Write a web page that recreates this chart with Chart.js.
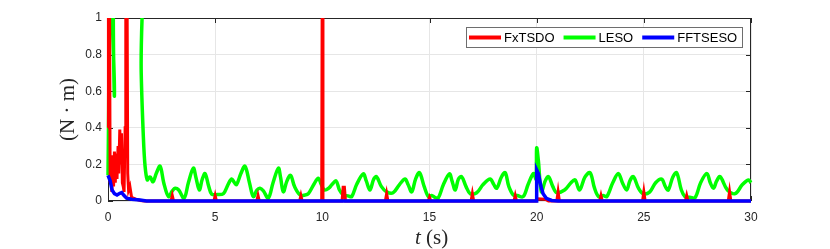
<!DOCTYPE html>
<html>
<head>
<meta charset="utf-8">
<script src="https://cdn.jsdelivr.net/npm/chart.js@4"></script>
<style>
  html, body { margin: 0; padding: 0; background: #fff; }
  #wrap { width: 830px; height: 249px; }
</style>
</head>
<body>
<div id="wrap"><canvas id="chart" width="830" height="249"></canvas></div>
<script>
// --- données ---
const seriesNames = ['FxTSDO', 'LESO', 'FFTSESO'];
const seriesColors = ['#ff0000', '#00ff00', '#0000ff'];

const xTicks = [0, 5, 10, 15, 20, 25, 30];
const yTicks = [0, 0.2, 0.4, 0.6, 0.8, 1];
const yTickLabels = ['0', '0.2', '0.4', '0.6', '0.8', '1'];

// FxTSDO (rouge)
const redT = [0, 0.02, 0.06, 0.1, 0.14, 0.18, 0.22, 0.26, 0.3, 0.34, 0.38, 0.42, 0.47, 0.5, 0.55, 0.6, 0.63, 0.67, 0.71, 0.75, 0.8, 0.83, 0.88, 0.92, 0.96, 1.02, 1.1, 1.3, 1.5, 1.7,
  2.94, 3.0, 3.06, 4.94, 5.0, 5.06, 6.94, 7.0, 7.06, 8.94, 9.0, 9.06, 9.97, 10.0, 10.03,
  10.92, 10.97, 11.03, 11.08, 12.94, 13.0, 13.06, 14.94, 15.0, 15.06, 16.94, 17.0, 17.06, 18.94, 19.0, 19.06,
  19.99, 20.05, 20.4, 20.55, 20.94, 21.0, 21.06, 22.94, 23.0, 23.06, 24.94, 25.0, 25.06, 26.94, 27.0, 27.06, 28.94, 29.0, 29.06, 30];
const redY = [0.4, 1.5, 1.5, 0.1, 0.22, 0.05, 0.25, 0.08, 0.27, 0.1, 0.26, 0.12, 0.3, 0.15, 0.39, 0.2, 0.37, 0.1, 0.08, 0.05, 0.4, 1.5, 1.5, 0.15, 0.06, 0.08, 0.02, 0.01, 0.003, 0,
  0, 0.03, 0, 0, 0.03, 0, 0, 0.03, 0, 0, 0.03, 0, 0, 1.5, 0,
  0, 0.075, 0.075, 0, 0, 0.04, 0, 0, 0.02, 0, 0, 0.04, 0, 0, 0.03, 0,
  0, 0.012, 0.01, 0, 0, 0.05, 0, 0, 0.03, 0, 0, 0.05, 0, 0, 0.03, 0, 0, 0.05, 0, 0];

// LESO (vert)
const greenT = [0, 0.03, 0.08, 0.2, 0.26, 0.3, 0.34, 1.45, 1.55, 1.65, 1.73, 1.83, 1.92, 1.98, 2.1, 2.25, 2.43, 2.6, 2.82, 3.0, 3.13, 3.3, 3.55, 3.75, 3.98,
  4.1, 4.26, 4.4, 4.53, 4.7, 4.84, 5.1, 5.38, 5.6, 5.77, 5.9, 6.0, 6.2, 6.39, 6.6, 6.78, 6.95, 7.09, 7.25, 7.48, 7.7, 7.95,
  8.05, 8.18, 8.35, 8.52, 8.7, 8.96, 9.2, 9.35, 9.6, 9.81, 9.95, 10.1, 10.3, 10.45, 10.64, 10.8, 10.98, 11.2, 11.37, 11.6, 11.91,
  12.05, 12.22, 12.4, 12.53, 12.75, 13.0, 13.3, 13.6, 13.86, 14.0, 14.17, 14.35, 14.53, 14.75, 14.95, 15.1, 15.25, 15.4, 15.65, 15.93,
  16.05, 16.2, 16.35, 16.5, 16.7, 16.9, 17.2, 17.5, 17.83, 18.0, 18.14, 18.35, 18.53, 18.7, 18.91, 19.1, 19.37, 19.6, 19.85, 19.97,
  20.0, 20.08, 20.22, 20.4, 20.55, 20.75, 20.93, 21.3, 21.6, 21.79, 22.0, 22.25, 22.49, 22.7, 22.89, 23.1, 23.27, 23.55, 23.81,
  24.0, 24.2, 24.35, 24.51, 24.75, 24.97, 25.28, 25.55, 25.83, 26.0, 26.14, 26.35, 26.53, 26.75, 26.92, 27.15, 27.39, 27.65, 27.94,
  28.1, 28.25, 28.4, 28.56, 28.9, 29.26, 29.6, 29.88, 30];
const greenY = [0.14, 0.5, 1.5, 1.5, 0.8, 0.58, 1.5, 1.5, 0.7, 0.35, 0.19, 0.115, 0.13, 0.13, 0.105, 0.15, 0.19, 0.1, 0.024, 0.055, 0.07, 0.06, 0.015, 0.1, 0.18,
  0.13, 0.06, 0.12, 0.15, 0.08, 0.037, 0.035, 0.04, 0.09, 0.12, 0.1, 0.09, 0.15, 0.19, 0.1, 0.024, 0.06, 0.07, 0.055, 0.015, 0.1, 0.18,
  0.13, 0.05, 0.11, 0.14, 0.08, 0.033, 0.033, 0.04, 0.09, 0.125, 0.09, 0.06, 0.07, 0.09, 0.11, 0.06, 0.033, 0.028, 0.024, 0.09, 0.148,
  0.11, 0.06, 0.12, 0.133, 0.08, 0.05, 0.045, 0.09, 0.12, 0.09, 0.05, 0.12, 0.155, 0.08, 0.024, 0.03, 0.02, 0.015, 0.09, 0.148,
  0.11, 0.06, 0.12, 0.133, 0.08, 0.04, 0.045, 0.09, 0.12, 0.09, 0.07, 0.13, 0.155, 0.08, 0.033, 0.03, 0.024, 0.09, 0.15, 0.12,
  0.29, 0.22, 0.05, 0.11, 0.133, 0.08, 0.046, 0.06, 0.1, 0.115, 0.06, 0.13, 0.155, 0.07, 0.024, 0.03, 0.024, 0.1, 0.15,
  0.1, 0.06, 0.11, 0.133, 0.07, 0.04, 0.05, 0.1, 0.12, 0.08, 0.06, 0.13, 0.155, 0.06, 0.024, 0.02, 0.018, 0.1, 0.15,
  0.1, 0.07, 0.11, 0.133, 0.06, 0.04, 0.09, 0.115, 0.1];

// FFTSESO (bleu)
const blueT = [0, 0.1, 0.19, 0.3, 0.42, 0.55, 0.64, 0.75, 0.87, 1.1, 1.49, 1.8, 19.99, 20.0, 20.08, 20.2, 20.3, 20.45, 20.7, 21.0, 30];
const blueY = [0.14, 0.11, 0.06, 0.04, 0.033, 0.042, 0.046, 0.03, 0.015, 0.01, 0.005, 0, 0, 0.17, 0.15, 0.08, 0.04, 0.015, 0.003, 0, 0];

function toPoints(ts, ys) {
  return ts.map((t, i) => ({ x: t, y: ys[i] }));
}

const axisColor = '#262626';
const gridColor = '#e6e6e6';
const titleFont = '"Liberation Serif"';

// Cadre, petites graduations, titres d'axes et légende dans la zone du tracé
const figurePlugin = {
  id: 'figure',
  beforeDatasetsDraw(chart) {
    const { ctx, chartArea: a, scales } = chart;
    ctx.save();
    ctx.strokeStyle = axisColor;
    ctx.lineWidth = 1;
    ctx.strokeRect(a.left + 0.5, a.top + 0.5, a.right - a.left - 1, a.bottom - a.top - 1);
    ctx.beginPath();
    xTicks.forEach(v => {
      const x = Math.round(scales.x.getPixelForValue(v)) + 0.5;
      ctx.moveTo(x, a.bottom); ctx.lineTo(x, a.bottom - 5);
      ctx.moveTo(x, a.top); ctx.lineTo(x, a.top + 5);
    });
    yTicks.forEach(v => {
      const y = Math.round(scales.y.getPixelForValue(v)) + 0.5;
      ctx.moveTo(a.left, y); ctx.lineTo(a.left + 5, y);
      ctx.moveTo(a.right, y); ctx.lineTo(a.right - 5, y);
    });
    ctx.stroke();
    ctx.restore();
  },
  afterDraw(chart) {
    const { ctx, chartArea: a } = chart;
    ctx.save();
    // titre axe y
    ctx.fillStyle = axisColor;
    ctx.font = '21px ' + titleFont;
    ctx.textAlign = 'center';
    ctx.textBaseline = 'middle';
    ctx.translate(68, (a.top + a.bottom) / 2);
    ctx.rotate(-Math.PI / 2);
    ctx.fillText('(N \u00b7 m)', 0, 0);
    ctx.restore();

    // titre axe x : t en italique
    ctx.save();
    ctx.fillStyle = axisColor;
    ctx.textBaseline = 'middle';
    ctx.textAlign = 'left';
    const cx = (a.left + a.right) / 2 + 2;
    ctx.font = 'italic 21px ' + titleFont;
    const wT = ctx.measureText('t').width;
    ctx.font = '21px ' + titleFont;
    const wS = ctx.measureText(' (s)').width;
    const x0 = cx - (wT + wS) / 2;
    ctx.font = 'italic 21px ' + titleFont;
    ctx.fillText('t', x0, 238);
    ctx.font = '21px ' + titleFont;
    ctx.fillText(' (s)', x0 + wT, 238);
    ctx.restore();

    // légende
    ctx.save();
    const bx = 466, by = 27.5, bw = 276, bh = 20;
    ctx.fillStyle = '#fff';
    ctx.fillRect(bx, by, bw, bh);
    ctx.strokeStyle = '#6e6e6e';
    ctx.lineWidth = 1;
    ctx.strokeRect(bx + 0.5, by, bw, bh);
    ctx.font = '13px "Liberation Sans"';
    ctx.textBaseline = 'middle';
    ctx.textAlign = 'left';
    const cy = by + bh / 2;
    let x = bx + 3;
    seriesNames.forEach((name, i) => {
      ctx.strokeStyle = seriesColors[i];
      ctx.lineWidth = 4;
      ctx.beginPath();
      ctx.moveTo(x, cy); ctx.lineTo(x + 32, cy);
      ctx.stroke();
      ctx.fillStyle = '#000';
      ctx.fillText(name, x + 35, cy + 0.5);
      x += 35 + ctx.measureText(name).width + 9;
    });
    ctx.restore();
  }
};

const chart = new Chart(document.getElementById('chart'), {
  type: 'line',
  data: {
    datasets: [
      { label: seriesNames[0], data: toPoints(redT, redY), borderColor: seriesColors[0], borderWidth: 3, tension: 0, order: 2 },
      { label: seriesNames[1], data: toPoints(greenT, greenY), borderColor: seriesColors[1], borderWidth: 3.5, tension: 0.35, order: 3 },
      { label: seriesNames[2], data: toPoints(blueT, blueY), borderColor: seriesColors[2], borderWidth: 3.5, tension: 0, order: 1 }
    ]
  },
  options: {
    responsive: false,
    animation: false,
    layout: { padding: { left: 0, right: 79, top: 18, bottom: 0 } },
    elements: { point: { radius: 0 } },
    datasets: { line: { clip: { left: 2, right: 2, top: 0, bottom: 3 } } },
    plugins: { legend: { display: false }, tooltip: { enabled: false } },
    scales: {
      x: {
        type: 'linear', min: 0, max: 30,
        afterFit: s => { s.height = 48; },
        afterBuildTicks: s => { s.ticks = xTicks.map(v => ({ value: v })); },
        grid: { color: gridColor, drawTicks: false },
        border: { display: false },
        ticks: { padding: 9, color: axisColor, font: { family: 'Liberation Sans', size: 12 }, maxRotation: 0 }
      },
      y: {
        min: 0, max: 1,
        afterFit: s => { s.width = 108; },
        afterBuildTicks: s => { s.ticks = yTicks.map(v => ({ value: v })); },
        grid: { color: gridColor, drawTicks: false },
        border: { display: false },
        ticks: {
          padding: 6, color: axisColor, font: { family: 'Liberation Sans', size: 12 },
          callback: (v, i) => yTickLabels[i]
        }
      }
    }
  },
  plugins: [figurePlugin]
});
</script>
</body>
</html>
